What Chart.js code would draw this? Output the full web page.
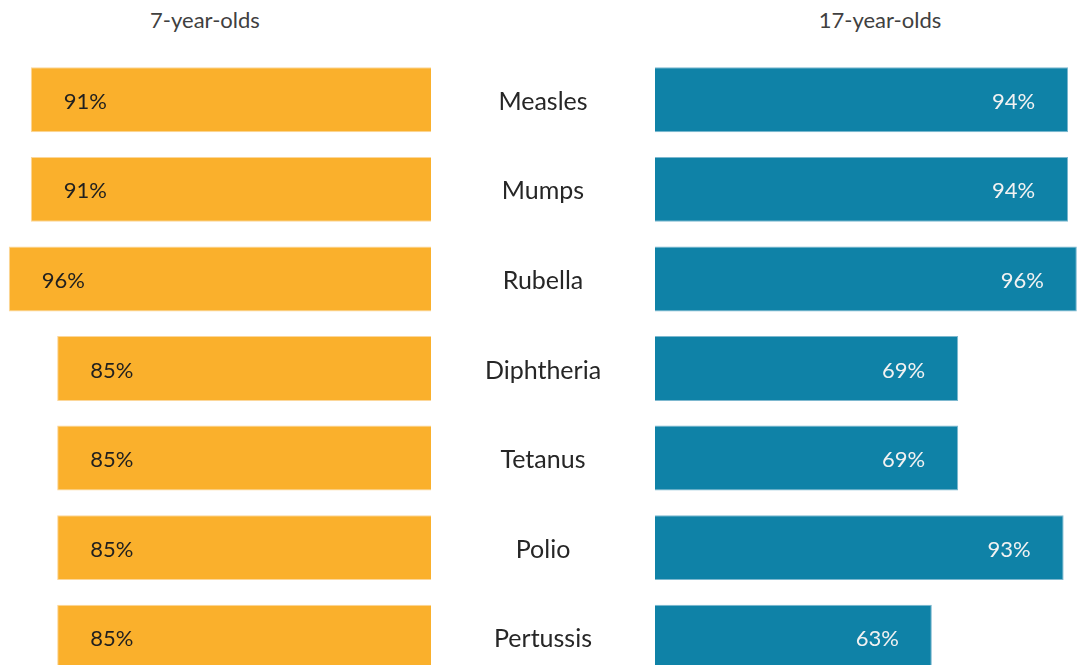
<!DOCTYPE html>
<html>
<head>
<meta charset="utf-8">
<script src="https://cdn.jsdelivr.net/npm/chart.js@4.4.1/dist/chart.umd.min.js"></script>
<style>
    html, body { margin: 0; padding: 0; background: #fff; }
    body { width: 1090px; height: 665px; overflow: hidden; position: relative; font-family: Lato, sans-serif; }
    .head { position: absolute; top: 6px; font-size: 22px; color: #404040; text-align: center; width: 300px; }
    #youngWrap { position: absolute; left: 0; top: 0; width: 431px; height: 700px; }
    #olderWrap { position: absolute; left: 431px; top: 0; width: 659px; height: 700px; }
</style>
</head>
<body>
<div class="head" style="left:55px">7-year-olds</div>
<div class="head" style="left:730px">17-year-olds</div>
<div id="youngWrap"><canvas id="youngChart"></canvas></div>
<div id="olderWrap"><canvas id="olderChart"></canvas></div>

<script>
const vaccines = ["Measles", "Mumps", "Rubella", "Diphtheria", "Tetanus", "Polio", "Pertussis"];
const age7 = [91, 91, 96, 85, 85, 85, 85];
const age17 = [94, 94, 96, 69, 69, 93, 63];

const ORANGE = "#FAB02C";
const TEAL = "#0F82A7";
const FONT = "Lato, sans-serif";

// Percent labels sit just inside the outer end of each bar
const valueLabels = {
    id: "valueLabels",
    afterDatasetsDraw(chart, args, opts) {
        const ctx = chart.ctx;
        const meta = chart.getDatasetMeta(0);
        const values = chart.data.datasets[0].data;
        ctx.save();
        ctx.font = "22px " + FONT;
        ctx.fillStyle = opts.color;
        ctx.textBaseline = "middle";
        ctx.textAlign = opts.side === "left" ? "left" : "right";
        meta.data.forEach((bar, i) => {
            const x = opts.side === "left" ? bar.x + 33 : bar.x - 33;
            ctx.fillText(values[i] + "%", x, bar.y + 2);
        });
        ctx.restore();
    }
};

// Vaccine names centred in the gap between the two halves
const centerLabels = {
    id: "centerLabels",
    afterDraw(chart) {
        const ctx = chart.ctx;
        const yScale = chart.scales.y;
        const cx = chart.chartArea.left / 2;
        ctx.save();
        ctx.font = "25px " + FONT;
        ctx.fillStyle = "#262626";
        ctx.textAlign = "center";
        ctx.textBaseline = "middle";
        chart.data.labels.forEach((name, i) => {
            ctx.fillText(name, cx, yScale.getPixelForTick(i) + 2);
        });
        ctx.restore();
    }
};

function baseOptions(reverse, max, padLeft, labelOpts) {
    return {
        indexAxis: "y",
        responsive: true,
        maintainAspectRatio: false,
        animation: false,
        layout: { padding: { top: 55, bottom: 18, left: padLeft, right: 0 } },
        plugins: {
            legend: { display: false },
            tooltip: { enabled: false },
            valueLabels: labelOpts
        },
        scales: {
            x: { display: false, min: 0, max: max, reverse: reverse },
            y: { display: false }
        }
    };
}

new Chart(document.getElementById("youngChart"), {
    type: "bar",
    data: {
        labels: vaccines,
        datasets: [{
            data: age7,
            backgroundColor: ORANGE,
            borderColor: "#FCD79A",
            borderWidth: 1,
            barPercentage: 0.725,
            categoryPercentage: 1
        }]
    },
    options: baseOptions(true, 98, 0, { side: "left", color: "#1f1f1f" }),
    plugins: [valueLabels]
});

new Chart(document.getElementById("olderChart"), {
    type: "bar",
    data: {
        labels: vaccines,
        datasets: [{
            data: age17,
            backgroundColor: TEAL,
            borderColor: "#7DB8CF",
            borderWidth: 1,
            barPercentage: 0.725,
            categoryPercentage: 1
        }]
    },
    options: baseOptions(false, 99, 224, { side: "right", color: "#F2F2F2" }),
    plugins: [valueLabels, centerLabels]
});
</script>
</body>
</html>
